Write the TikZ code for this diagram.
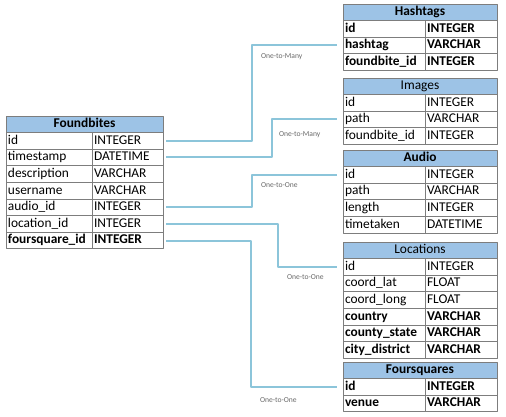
\documentclass[tikz,border=0pt]{standalone}
\usepackage{fontspec}
\setmainfont{Carlito}
\usetikzlibrary{positioning}
\definecolor{hdrblue}{RGB}{157,195,230}
\definecolor{linkblue}{RGB}{140,197,218}
\definecolor{gridgray}{RGB}{125,125,125}
\definecolor{lblgray}{RGB}{105,105,105}
% name, left, top, field width, type width, title style, title, rows
\newcommand{\dbtable}[8]{%
	\node[hdr,#6,minimum width=#4+#5,anchor=north west] (#1-0) at (#2,#3) {#7};
	\foreach \fld/\typ/\wt [count=\i] in {#8} {
		\pgfmathtruncatemacro{\j}{\i-1}
		\node[cell,\wt,text width=#4-4,anchor=north west] (#1-\i) at (#1-\j.south west) {\fld};
		\node[cell,\wt,text width=#5-4,right=0pt of #1-\i] (#1-\i-t) {\typ};
	}
}
\begin{document}
\begin{tikzpicture}[x=1pt,y=-1pt,line join=round]
	\tikzset{
		cell/.style={draw=gridgray,line width=0.7pt,outer sep=0pt,inner xsep=2pt,inner ysep=0pt,
			minimum height=16.6pt,align=left,text height=9.4pt,text depth=2.6pt,
			font=\fontsize{13.4}{14}\selectfont},
		reg/.style={},
		heavy/.style={font=\fontsize{13.4}{14}\selectfont\bfseries},
		hdr/.style={cell,fill=hdrblue,align=center,inner xsep=0pt},
		link/.style={draw=linkblue,line width=2pt,shorten <=3pt,shorten >=6pt},
		lbl/.style={anchor=north west,inner sep=0pt,text=lblgray,font=\fontsize{7.6}{8}\selectfont,xshift=8pt,yshift=-7pt}
	}
	\useasboundingbox (0,0) rectangle (506,417);

	\dbtable{fb}{6}{116}{86}{71}{heavy}{Foundbites}{id/INTEGER/reg, timestamp/DATETIME/reg,
		description/VARCHAR/reg, username/VARCHAR/reg, audio\_id/INTEGER/reg,
		location\_id/INTEGER/reg, foursquare\_id/INTEGER/heavy}
	\dbtable{hash}{343}{4}{82}{72}{heavy}{Hashtags}{id/INTEGER/heavy, hashtag/VARCHAR/heavy,
		foundbite\_id/INTEGER/heavy}
	\dbtable{img}{343}{78}{82}{72}{reg}{Images}{id/INTEGER/reg, path/VARCHAR/reg,
		foundbite\_id/INTEGER/reg}
	\dbtable{aud}{343}{150}{82}{72}{heavy}{Audio}{id/INTEGER/reg, path/VARCHAR/reg,
		length/INTEGER/reg, timetaken/DATETIME/reg}
	\dbtable{loc}{343}{242}{82}{72}{reg}{Locations}{id/INTEGER/reg, coord\_lat/FLOAT/reg,
		coord\_long/FLOAT/reg, country/VARCHAR/heavy, county\_state/VARCHAR/heavy,
		city\_district/VARCHAR/heavy}
	\dbtable{fsq}{343}{362}{82}{72}{heavy}{Foursquares}{id/INTEGER/heavy, venue/VARCHAR/heavy}

	% bend columns
	\coordinate (bendA) at (252,0);
	\coordinate (bendB) at (272,0);
	\coordinate (bendC) at (278,0);
	\coordinate (bendD) at (251,0);

	\draw[link] (fb-1-t.east) -- (fb-1-t.east -| bendA) |- node[lbl] {One-to-Many} (hash-2.west);
	\draw[link] (fb-2-t.east) -- (fb-2-t.east -| bendB) |- node[lbl,xshift=-2pt,yshift=-4pt] {One-to-Many} (img-2.west);
	\draw[link] (fb-5-t.east) -- (fb-5-t.east -| bendA) |- node[lbl] {One-to-One} (aud-1.west);
	\draw[link] (fb-6-t.east) -- (fb-6-t.east -| bendC) |- node[lbl] {One-to-One} (loc-1.west);
	\draw[link] (fb-7-t.east) -- (fb-7-t.east -| bendD) |- node[lbl,yshift=-3pt] {One-to-One} (fsq-1.west);
\end{tikzpicture}
\end{document}
